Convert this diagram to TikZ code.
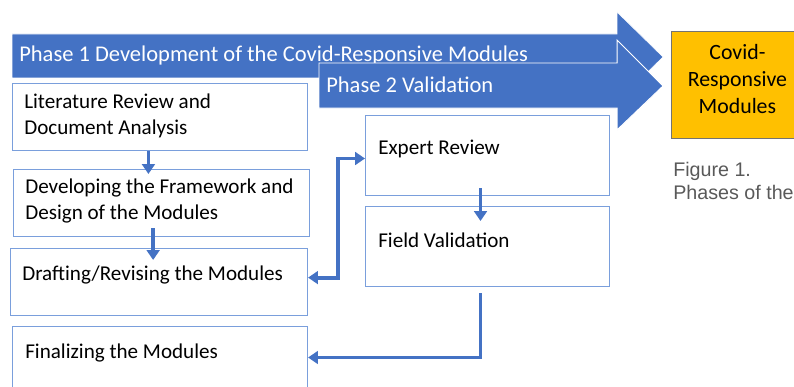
\documentclass[tikz,border=0pt]{standalone}
\usepackage{fontspec}
\setmainfont{Carlito}
\newfontfamily\capfont{Liberation Sans}
\usetikzlibrary{arrows.meta}
\definecolor{phaseblue}{HTML}{4472C4}
\definecolor{boxblue}{HTML}{7A9FDC}
\definecolor{resgold}{HTML}{FFC000}
\tikzset{
  stepbox/.style={draw=boxblue, line width=0.7pt, fill=white, anchor=north west, inner sep=0pt},
  boxtext/.style={font=\fontsize{15}{18.5}\selectfont, align=left, anchor=west, inner sep=0pt},
  phasetext/.style={font=\fontsize{16}{19}\selectfont, text=white, anchor=west, inner sep=0pt},
  link/.style={draw=phaseblue, line width=2.7pt, -{Triangle[length=7pt,width=9pt]}},
  linkboth/.style={draw=phaseblue, line width=2.7pt, {Triangle[length=7pt,width=9pt]}-{Triangle[length=7pt,width=9pt]}},
}
\begin{document}
\begin{tikzpicture}[x=0.025cm,y=-0.025cm]
  \useasboundingbox (0,0) rectangle (794,387);
  \clip (0,0) rectangle (794,387);
  % phase arrows
  \fill[phaseblue, draw=white, line width=0.4pt] (12,34) -- (617,34) -- (617,12) -- (663,57) -- (617,102) -- (617,78) -- (12,78) -- cycle;
  \node[phasetext] (phaseone) at (19,56) {Phase 1 Development of the Covid-Responsive Modules};
  \fill[phaseblue, draw=white, line width=0.7pt] (319,63) -- (617,63) -- (617,40) -- (663,86) -- (617,130) -- (617,108) -- (319,108) -- cycle;
  \node[phasetext] (phasetwo) at (326,85) {Phase 2 Validation};
  % phase 1 steps
  \node[stepbox, minimum width=7.375cm, minimum height=1.675cm,
    label={[boxtext, xshift=0.3cm, yshift=-0.825cm]north west:{Literature Review and\\Document Analysis}}] (lit) at (12,83) {};
  \node[stepbox, minimum width=7.4cm, minimum height=1.675cm,
    label={[boxtext, xshift=0.3cm, yshift=-0.81cm]north west:{Developing the Framework and\\Design of the Modules}}] (dev) at (13,169) {};
  \node[stepbox, minimum width=7.425cm, minimum height=1.675cm,
    label={[boxtext, xshift=0.3cm, yshift=-0.675cm]north west:{Drafting/Revising the Modules}}] (draft) at (10,248) {};
  \node[stepbox, minimum width=7.375cm, minimum height=1.55cm,
    label={[boxtext, xshift=0.325cm, yshift=-0.675cm]north west:{Finalizing the Modules}}] (final) at (12,326) {};
  % phase 2 steps
  \node[stepbox, minimum width=6.1cm, minimum height=2cm,
    label={[boxtext, xshift=0.325cm, yshift=-0.85cm]north west:{Expert Review}}] (expert) at (365,115) {};
  \node[stepbox, minimum width=6.1cm, minimum height=2cm,
    label={[boxtext, xshift=0.325cm, yshift=-0.85cm]north west:{Field Validation}}] (field) at (365,206) {};
  % output
  \node[draw=black!55, fill=resgold, line width=0.6pt, anchor=north west, inner sep=0pt,
    minimum width=3.3cm, minimum height=2.675cm,
    label={[font=\fontsize{15.5}{19.5}\selectfont, align=center, inner sep=0pt, yshift=0.15cm]center:{Covid-\\Responsive\\Modules}}] (result) at (671,31) {};
  \node[font=\capfont\fontsize{14}{16.5}\selectfont, text=black!65, align=left, anchor=north west, inner sep=0pt] (caption) at (673,162) {Figure 1.\\Phases of the};
  % connectors
  \draw[link] ([xshift=-0.29cm]lit.south) -- ++(0,23);
  \draw[link] ([xshift=-0.21cm,yshift=0.225cm]dev.south) -- ++(0,32);
  \draw[linkboth] ([yshift=0.11cm]draft.east) -- ++(30,0) |- ([yshift=-0.075cm]expert.west);
  \draw[link] ([xshift=-0.175cm,yshift=0.2cm]expert.south) -- ++(0,33);
  \draw[link] ([xshift=-0.175cm,yshift=-0.15cm]field.south) |- (final.east);
\end{tikzpicture}
\end{document}
